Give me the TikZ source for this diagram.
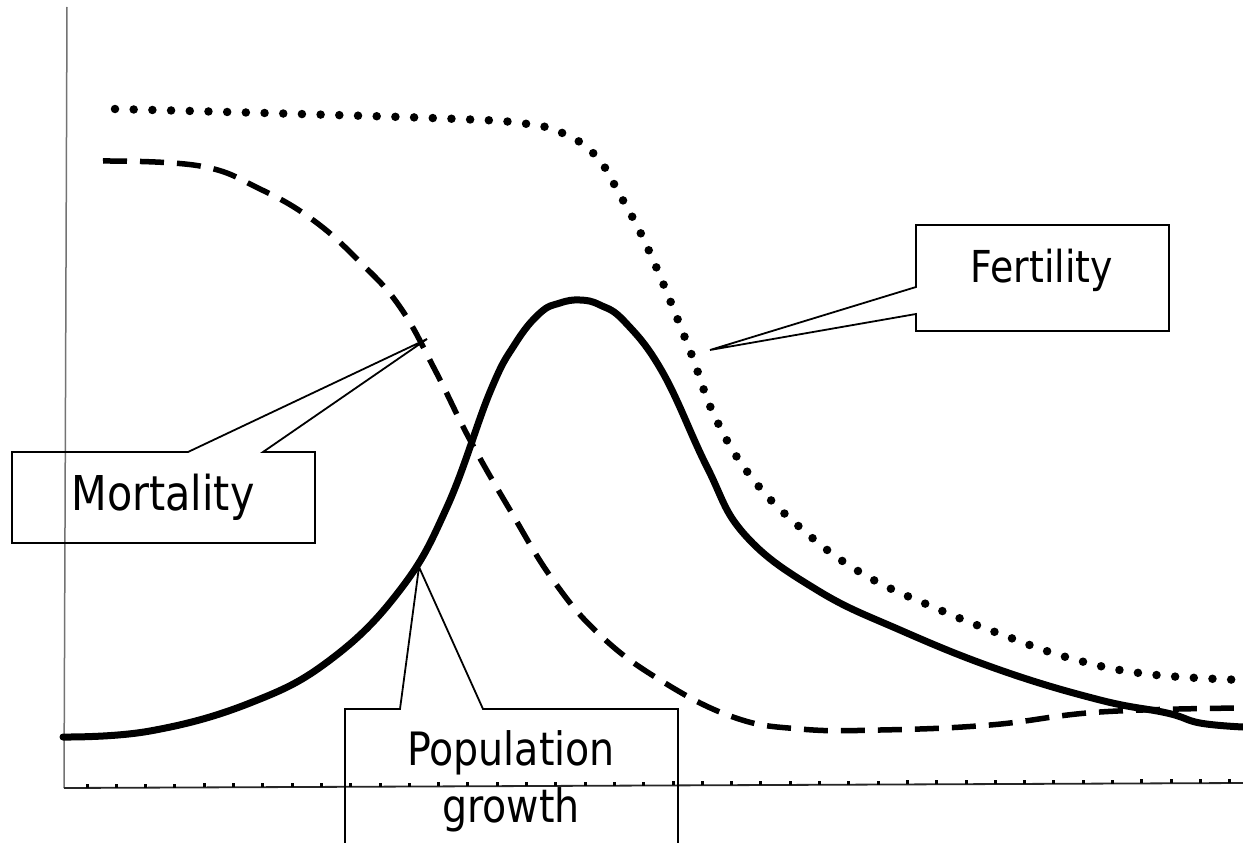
\documentclass[tikz,border=0pt]{standalone}
\usepackage{fontspec}
\setmainfont{DejaVu Sans}[FakeStretch=0.86]
\begin{document}
\begin{tikzpicture}[x=1pt,y=-1pt,
  axisv/.style={draw=black!55,line width=1.5pt},
  axish/.style={draw=black!85,line width=1.8pt},
  tickmark/.style={draw=black,line width=3pt},
  popcurve/.style={draw=black,line width=7pt,line cap=round,line join=round},
  mortcurve/.style={draw=black,line width=5.5pt,dash pattern=on 24pt off 13pt},
  fertcurve/.style={draw=black,line width=8.5pt,line cap=round,dash pattern=on 0pt off 18.7pt},
  callout/.style={draw=black,line width=1.8pt,line join=miter},
  lbl/.style={inner sep=0pt,anchor=base,text=black}
]
\clip (0,0) rectangle (1243,843);
\fill[white] (0,0) rectangle (1243,843);

% axes
\coordinate (ytop) at (67,7);
\coordinate (orig) at (64,788);
\coordinate (xend) at (1243,783);
\draw[axisv] (ytop) -- (orig);
\draw[axish] (orig) -- (xend);
\foreach \i in {0,...,39}{
  \pgfmathsetmacro{\tx}{87+29.3*\i}
  \pgfmathsetmacro{\ty}{788-5*(\tx-64)/1179}
  \draw[tickmark] (\tx,\ty) -- (\tx,\ty-4);
}

% fertility (dotted)
\draw[fertcurve] plot[smooth,tension=0.7] coordinates {
 (115,109) (300,114) (458,119) (520,123) (560,132) (595,155) (620,195)
 (650,253) (689,348) (715,417) (752,478) (803,530) (863,574) (933,607)
 (1003,635) (1073,659) (1147,674) (1243,680)};

% mortality (dashed)
\draw[mortcurve] plot[smooth,tension=0.7] coordinates {
 (103,161) (200,166) (260,189) (313,220) (360,262) (400,307) (435,370)
 (470,440) (510,510) (553,580) (600,635) (660,680) (733,717) (800,729)
 (880,730) (990,725) (1100,712) (1243,708)};

% population growth (solid)
\draw[popcurve] plot[smooth,tension=0.7] coordinates {
 (63,737) (150,731) (250,703) (330,660) (400,590) (447,507) (490,392)
 (515,344) (540,313) (560,303) (580,300) (600,305) (625,322) (663,373)
 (707,467) (745,535) (817,590) (900,630) (1000,670) (1100,700)
 (1167,713) (1200,723) (1243,727)};

% Fertility callout
\coordinate (ftip) at (710,350);
\coordinate (fa) at (916,287);
\coordinate (fb) at (916,314);
\coordinate (fbl) at (916,331);
\coordinate (fbr) at (1169,331);
\coordinate (ftr) at (1169,225);
\coordinate (ftl) at (916,225);
\draw[callout] (fa) -- (ftip) -- (fb) -- (fbl) -- (fbr) -- (ftr) -- (ftl) -- cycle;
\node[lbl,font=\fontsize{44}{50}\selectfont] (fert) at (1042,282) {Fertility};

% Mortality callout
\coordinate (mtip) at (427,339);
\coordinate (ma) at (188,452);
\coordinate (mb) at (263,452);
\coordinate (mtr) at (315,452);
\coordinate (mbr) at (315,543);
\coordinate (mbl) at (12,543);
\coordinate (mtl) at (12,452);
\draw[callout] (ma) -- (mtip) -- (mb) -- (mtr) -- (mbr) -- (mbl) -- (mtl) -- cycle;
\node[lbl,font=\fontsize{48}{54}\selectfont] (mort) at (163,510) {Mortality};

% Population growth callout
\coordinate (ptip) at (419,567);
\coordinate (pa) at (400,709);
\coordinate (pb) at (483,709);
\coordinate (ptr) at (678,709);
\coordinate (pbr) at (678,870);
\coordinate (pbl) at (345,870);
\coordinate (ptl) at (345,709);
\draw[callout] (pa) -- (ptip) -- (pb) -- (ptr) -- (pbr) -- (pbl) -- (ptl) -- cycle;
\node[lbl,font=\fontsize{46}{52}\selectfont] (popa) at (511,765) {Population};
\node[lbl,font=\fontsize{46}{52}\selectfont] (popb) at (511,822) {growth};
\end{tikzpicture}
\end{document}
